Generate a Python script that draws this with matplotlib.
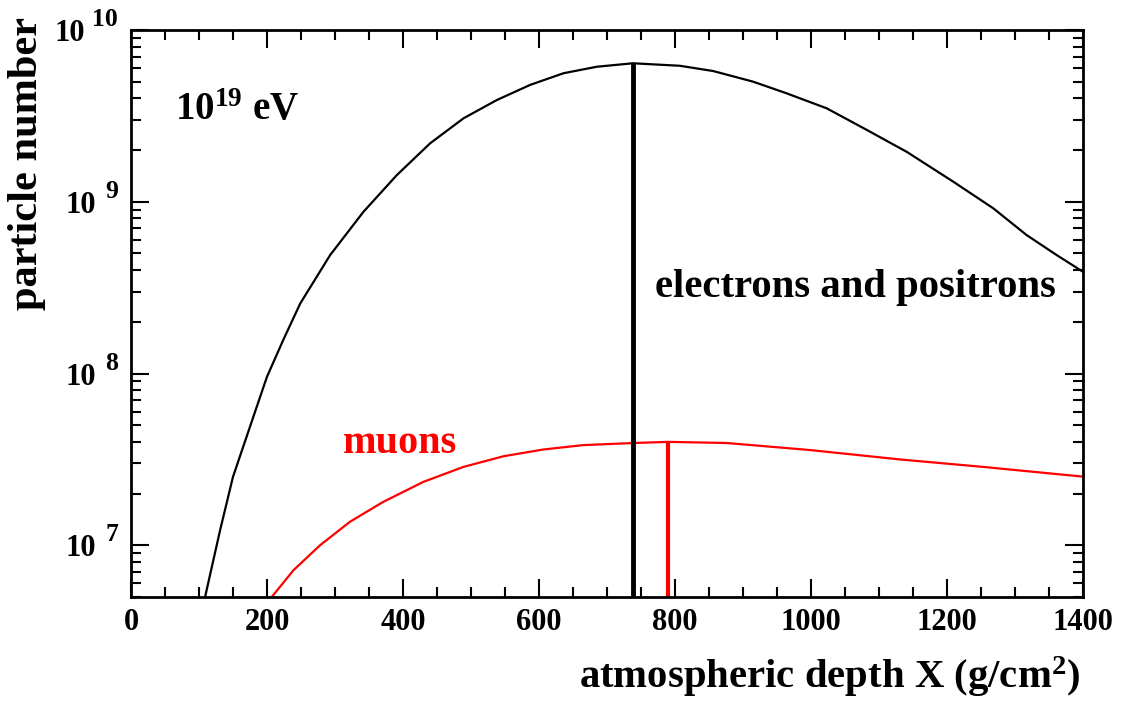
import matplotlib
matplotlib.use('Agg')
import matplotlib.pyplot as plt
from matplotlib.ticker import FixedLocator, MultipleLocator, LogLocator, NullFormatter

plt.rcParams['font.family'] = ['Liberation Serif', 'DejaVu Serif']
plt.rcParams['font.weight'] = 'bold'
plt.rcParams['mathtext.fontset'] = 'custom'
plt.rcParams['mathtext.rm'] = 'Liberation Serif:bold'
plt.rcParams['mathtext.bf'] = 'Liberation Serif:bold'
plt.rcParams['mathtext.it'] = 'Liberation Serif:bold:italic'

# shower profiles, depth in g/cm^2
e_depth = [109, 131, 150, 180, 200, 224, 249, 293, 342, 391, 440, 489, 538, 587,
           636, 685, 738, 807, 856, 915, 964, 1023, 1082, 1141, 1209, 1268, 1317,
           1361, 1400]
e_number = [5.0e6, 1.22e7, 2.50e7, 5.60e7, 9.57e7, 1.57e8, 2.56e8, 4.90e8, 8.75e8,
            1.43e9, 2.19e9, 3.06e9, 3.91e9, 4.79e9, 5.60e9, 6.11e9, 6.40e9, 6.19e9,
            5.77e9, 5.00e9, 4.28e9, 3.50e9, 2.62e9, 1.95e9, 1.31e9, 9.16e8, 6.40e8,
            4.90e8, 3.91e8]

mu_depth = [207, 239, 278, 322, 371, 430, 489, 548, 606, 665, 739, 790, 876, 1000,
            1131, 1253, 1400]
mu_number = [5.0e6, 7.16e6, 1.0e7, 1.37e7, 1.79e7, 2.34e7, 2.86e7, 3.30e7, 3.61e7,
             3.83e7, 3.94e7, 4.0e7, 3.94e7, 3.58e7, 3.16e7, 2.86e7, 2.51e7]

# shower maxima
e_xmax, e_nmax = 738, 6.40e9
mu_xmax, mu_nmax = 790, 4.0e7

x_ticks = [0, 200, 400, 600, 800, 1000, 1200, 1400]
y_exponents = [7, 8, 9, 10]
y_min, y_max = 5e6, 1e10

fig = plt.figure(figsize=(11.25, 7.04), dpi=100)
ax = fig.add_axes([0.1164, 0.152, 0.8463, 0.8054])

ax.plot(e_depth, e_number, color='black', lw=1.6)
ax.plot(mu_depth, mu_number, color='red', lw=1.6)
ax.vlines(e_xmax, y_min, e_nmax, color='black', lw=3.5)
ax.vlines(mu_xmax, y_min, mu_nmax, color='red', lw=3.0)

ax.set_yscale('log')
ax.set_xlim(0, 1400)
ax.set_ylim(y_min, y_max)

ax.xaxis.set_major_locator(FixedLocator(x_ticks))
ax.xaxis.set_minor_locator(MultipleLocator(50))
ax.yaxis.set_major_locator(FixedLocator([10.0 ** e for e in y_exponents]))
ax.yaxis.set_major_formatter(NullFormatter())
ax.yaxis.set_minor_locator(LogLocator(base=10, subs=range(2, 10)))
ax.yaxis.set_minor_formatter(NullFormatter())

ax.tick_params(which='both', direction='in', top=True, right=True, width=1.5,
               labelsize=22)
ax.tick_params(which='major', length=13)
ax.tick_params(which='minor', length=7)
ax.tick_params(axis='x', pad=8)
for s in ax.spines.values():
    s.set_linewidth(2)

# y labels written as "10" with a detached exponent
for e in y_exponents:
    exp_w = 11.5 * len(str(e))
    ax.annotate(str(e), xy=(0, 10.0 ** e), xycoords=('axes fraction', 'data'),
                xytext=(-13, 4), textcoords='offset pixels',
                fontsize=18.5, ha='right', va='baseline')
    ax.annotate('10', xy=(0, 10.0 ** e), xycoords=('axes fraction', 'data'),
                xytext=(-13 - exp_w - 10, -11), textcoords='offset pixels',
                fontsize=22, ha='right', va='baseline')

ax.text(0.046, 0.841, r'$\mathregular{10^{19}}$ eV', transform=ax.transAxes,
        fontsize=28, ha='left', va='baseline')
ax.text(0.550, 0.529, 'electrons and positrons', transform=ax.transAxes,
        fontsize=29.3, ha='left', va='baseline')
ax.text(0.2227, 0.254, 'muons', transform=ax.transAxes, color='red',
        fontsize=29, ha='left', va='baseline')

fig.text(0.96, 0.0227, r'atmospheric depth X (g/cm$\mathregular{^2}$)',
         fontsize=29.3, ha='right', va='baseline')
fig.text(0.024, 0.976, 'particle number', fontsize=30.5, rotation=90,
         ha='center', va='top')

fig.savefig('out.png', dpi=100)
